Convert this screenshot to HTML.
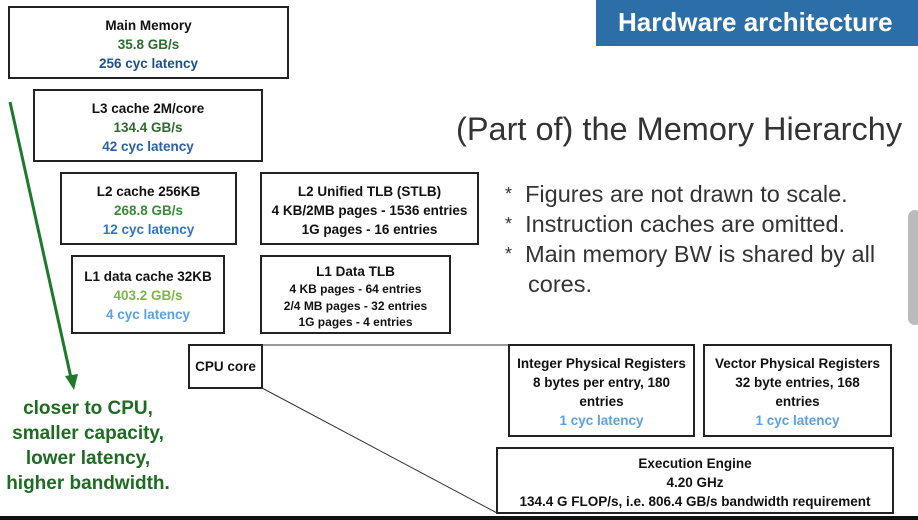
<!DOCTYPE html>
<html><head><style>
body{margin:0;width:918px;height:520px;background:#fff;position:relative;overflow:hidden;font-family:"Liberation Sans",sans-serif;}
.b{position:absolute;border:2px solid #222;box-sizing:border-box;text-align:center;font-weight:bold;font-size:13.5px;line-height:19px;color:#111;}
.g1{color:#2e6b2e}.g2{color:#3a8a3a}.g3{color:#7ab648}
.bl1{color:#1f4f8a}.bl2{color:#2a5fa8}.bl3{color:#2f74c8}.bl4{color:#5aa0e8}
.s{font-size:12px;line-height:16.5px}
.t{position:absolute;color:#333;}
</style></head><body>
<div style="position:absolute;left:596px;top:0;width:322px;height:46px;background:#2c6ea8;color:#fff;font-size:26px;font-weight:bold;line-height:44px;padding-left:22px;box-sizing:border-box;white-space:nowrap;">Hardware architecture</div>
<div class="t" style="left:456px;top:111px;font-size:32.5px;white-space:nowrap;">(Part of) the Memory Hierarchy</div>
<div class="t" style="left:505px;top:179px;font-size:23.5px;line-height:30px;white-space:nowrap;">
<div><span style="font-size:18px;vertical-align:2px">*</span>&nbsp;&nbsp;Figures are not drawn to scale.</div>
<div><span style="font-size:18px;vertical-align:2px">*</span>&nbsp;&nbsp;Instruction caches are omitted.</div>
<div><span style="font-size:18px;vertical-align:2px">*</span>&nbsp;&nbsp;Main memory BW is shared by all</div>
<div style="padding-left:23px">cores.</div></div>
<div style="position:absolute;left:908px;top:210px;width:14px;height:115px;background:#bbb;border-radius:7px;"></div>

<div class="b" style="left:8px;top:6px;width:281px;height:73px;padding-top:8px">Main Memory<br><span class="g1">35.8 GB/s</span><br><span class="bl1">256 cyc latency</span></div>
<div class="b" style="left:33px;top:89px;width:230px;height:73px;padding-top:8px">L3 cache 2M/core<br><span class="g1">134.4 GB/s</span><br><span class="bl2">42 cyc latency</span></div>
<div class="b" style="left:60px;top:172px;width:177px;height:73px;padding-top:8px">L2 cache 256KB<br><span class="g2">268.8 GB/s</span><br><span class="bl3">12 cyc latency</span></div>
<div class="b" style="left:260px;top:172px;width:219px;height:73px;padding-top:8px">L2 Unified TLB (STLB)<br>4 KB/2MB pages - 1536 entries<br>1G pages - 16 entries</div>
<div class="b" style="left:71px;top:255px;width:154px;height:79px;padding-top:10px">L1 data cache 32KB<br><span class="g3">403.2 GB/s</span><br><span class="bl4">4 cyc latency</span></div>
<div class="b" style="left:260px;top:255px;width:191px;height:79px;padding-top:5px">L1 Data TLB<div class="s">4 KB pages - 64 entries<br>2/4 MB pages - 32 entries<br>1G pages - 4 entries</div></div>
<div class="b" style="left:188px;top:344px;width:75px;height:45px;line-height:41px">CPU core</div>
<div class="b" style="left:508px;top:344px;width:187px;height:93px;padding-top:8px">Integer Physical Registers<br>8 bytes per entry, 180<br>entries<br><span class="bl4">1 cyc latency</span></div>
<div class="b" style="left:703px;top:344px;width:189px;height:93px;padding-top:8px">Vector Physical Registers<br>32 byte entries, 168<br>entries<br><span class="bl4">1 cyc latency</span></div>
<div class="b" style="left:496px;top:447px;width:398px;height:67px;padding-top:5px">Execution Engine<br>4.20 GHz<br>134.4 G FLOP/s, i.e. 806.4 GB/s bandwidth requirement</div>

<svg style="position:absolute;left:0;top:0" width="918" height="520">
<line x1="262" y1="345" x2="508" y2="345" stroke="#333" stroke-width="1"/>
<line x1="262" y1="388" x2="497" y2="513" stroke="#333" stroke-width="1"/>
<line x1="10" y1="102" x2="71" y2="378" stroke="#1e7a2a" stroke-width="3"/>
<polygon points="65,376 78,374 74,390" fill="#1e7a2a"/>
<rect x="0" y="516" width="918" height="4" fill="#111"/>
</svg>
<div style="position:absolute;left:-4px;top:396px;width:184px;text-align:center;color:#1e6b22;font-weight:bold;font-size:19px;line-height:25px;white-space:nowrap;">closer to CPU,<br>smaller capacity,<br>lower latency,<br>higher bandwidth.</div>
</body></html>
